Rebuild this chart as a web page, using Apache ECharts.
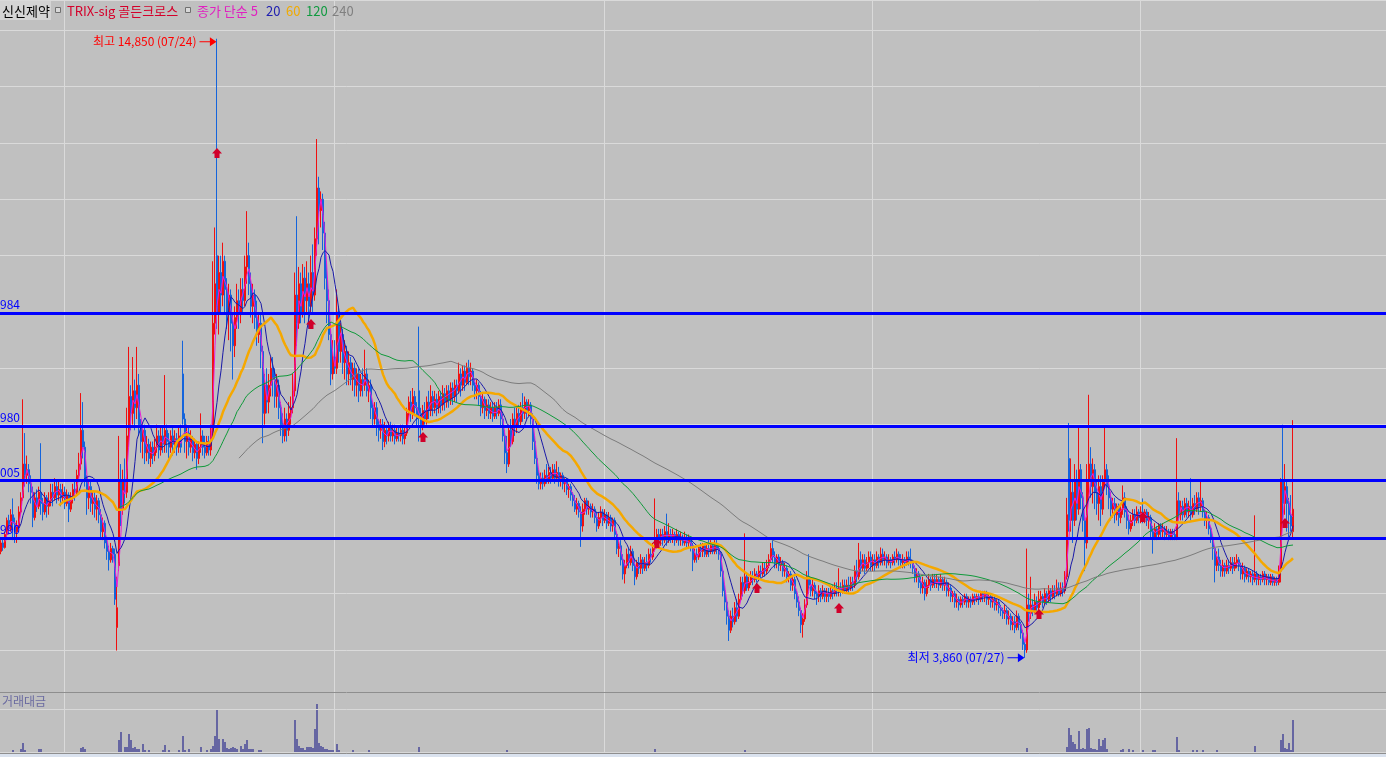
<!DOCTYPE html>
<html><head><meta charset="utf-8">
<script src="https://cdn.jsdelivr.net/npm/echarts@6/dist/echarts.min.js"></script>
<style>html,body{margin:0;padding:0;background:#c0c0c0;overflow:hidden}#c{width:1386px;height:757px}</style>
</head><body><div id="c"></div>
<script>
// ---- data (each candle = 2 trading days): [open, close, low, high]
const ohlc = [
[5750,5900,5700,5950],[5900,5820,5760,6000],[5820,6050,5800,6100],[6050,6300,5950,6350],[6300,6150,6050,6400],[6150,6400,6100,6500],[6400,6250,5950,6690],[6250,6100,5900,6350],[6100,6200,5900,6300],[6200,6450,6150,6550],
[6450,6700,6400,6800],[6700,7300,6650,8450],[7300,7100,6900,7850],[7100,7200,6950,7450],[7200,6950,6800,7300],[6950,6800,6600,7100],[6800,6350,6180,6900],[6350,6700,6300,6800],[6700,6550,6450,6850],[6550,6800,6500,6900],
[6800,6600,6400,7670],[6600,6450,6300,6700],[6450,6700,6400,6800],[6700,6550,6350,6750],[6550,6650,6400,6800],[6650,6800,6550,6950],[6800,6700,6550,6950],[6700,6900,6650,7050],[6900,6750,6600,7000],[6750,6850,6650,7000],
[6850,6700,6550,6950],[6700,6800,6600,6950],[6800,6600,6500,6900],[6600,6750,6550,6850],[6750,6500,6270,6800],[6500,6700,6450,6800],[6700,6850,6600,6950],[6850,6800,6650,7000],[6800,7100,6750,7200],[7100,7300,7000,7500],
[7300,7900,7200,8560],[7900,7600,7400,8400],[7600,7000,6900,7700],[7000,6700,6400,7100],[6700,6900,6500,7000],[6900,6600,6450,7000],[6600,6700,6400,6800],[6700,6500,6350,6800],[6500,6650,6300,6750],[6650,6400,6250,6700],
[6400,6100,6000,6500],[6100,6250,5950,6350],[6250,5900,5800,6300],[5900,5750,5600,6000],[5750,5600,5410,5850],[5600,5800,5550,5900],[5800,5700,5550,5850],[5700,4900,4800,5800],[4400,4750,3990,5300],[5500,7000,5400,7800],
[7000,6500,6200,7300],[6500,7000,6400,7200],[7000,6800,6600,7400],[6800,7800,6700,8300],[7800,8500,7600,9380],[8500,8200,7900,8700],[8200,8600,8000,9200],[8600,8300,7900,8800],[8300,8700,8100,9380],[8700,8000,7800,8900],
[8000,7700,7500,8100],[7700,7900,7400,8000],[7900,7500,7300,8000],[7500,7650,7350,7800],[7650,7400,7300,7750],[7400,7600,7250,7700],[7600,7450,7300,7700],[7450,7600,7350,7750],[7600,7800,7500,8000],[7800,7550,7400,7900],
[7550,7800,7450,7950],[7800,7650,7500,7950],[7650,7900,7500,8880],[7900,7700,7500,8000],[7700,7600,7400,7850],[7600,7800,7500,7900],[7800,7650,7450,7950],[7650,7750,7500,7900],[7750,7600,7450,7850],[7600,7800,7500,7950],
[7800,7600,7500,8000],[8900,8100,8000,9490],[8100,7700,7500,8200],[7700,7850,7400,8000],[7850,7600,7450,7950],[7600,7750,7500,7900],[7750,7500,7350,7800],[7500,7650,7400,7750],[7650,7400,7200,7700],[7400,7600,7300,7700],
[7600,7800,7500,8200],[7800,7600,7450,7900],[7600,7500,7400,7800],[7500,7700,7450,7800],[7700,7550,7450,7800],[7550,7900,7450,8000],[7900,9800,7800,10900],[9800,10500,9600,11500],[11000,10000,9700,14850],[10000,10700,9600,11000],
[10700,10300,10000,11000],[10300,10900,10100,11230],[10900,10400,10000,11000],[10400,10000,9700,10600],[10000,10300,9500,10500],[10300,9800,9300,10400],[9800,9400,8800,10000],[9400,9900,9200,10100],[9900,10200,9700,10500],[10200,10000,9700,10400],
[10000,10400,9800,10600],[10400,10200,10000,10600],[10200,10800,10100,11000],[10800,11000,10500,11790],[11000,10500,10300,11230],[10500,10100,9900,10700],[10100,10300,9800,10500],[10300,9900,9700,10400],[9900,9600,9400,10200],[9600,9800,9450,10000],
[9800,9300,9000,10000],[9300,8200,7670,9400],[8200,8700,8000,8900],[8700,8400,8200,9000],[8400,8700,8200,8900],[8700,9000,8500,9200],[9000,8800,8500,9200],[8800,8500,8300,9000],[8500,8700,8300,8900],[8700,8300,8100,8800],
[8300,8000,7800,8400],[8000,7800,7670,8200],[7800,8100,7700,8300],[8100,7900,7700,8200],[7900,8200,7800,8400],[8200,8300,8000,8500],[8300,8600,8200,8900],[8600,10300,8500,10700],[10300,9800,9400,11700],[9800,10500,9700,10800],
[10500,10000,9800,10700],[10000,10600,9900,10850],[10600,10200,9800,10800],[10200,10500,10000,10900],[10500,10100,9700,10700],[10100,10700,10000,11000],[10700,10300,10000,11200],[10300,11300,10200,11500],[11300,12200,11000,13070],[12200,11800,11200,12400],
[11800,12000,11500,12140],[12000,11400,11100,12100],[11400,10600,10400,11600],[10600,10200,9800,10900],[10200,9600,9500,10400],[9600,8900,8700,9800],[8900,9200,8800,9500],[9200,9000,8900,9500],[9000,10000,8900,10400],[10000,9300,9100,10100],
[9300,9600,9100,9800],[9600,9100,8900,9700],[9100,9300,8800,9500],[9300,8900,8700,9400],[8900,9100,8700,9300],[9100,8800,8700,9200],[8800,9000,8600,9100],[9000,8700,8500,9100],[8700,8900,8500,9000],[8900,8600,8400,9000],
[8600,8800,8500,8900],[8800,8700,8500,9000],[8700,8900,8600,9330],[8900,8600,8500,9000],[8600,8700,8400,8800],[8700,8300,8100,8800],[8300,8100,7950,8400],[8100,8300,8000,8400],[8300,8000,7800,8400],[8000,7900,7700,8100],
[7900,8000,7750,8100],[8000,7700,7550,8100],[7700,7900,7600,8050],[7900,7800,7650,8000],[7800,7950,7700,8050],[7950,7800,7700,8050],[7800,7900,7700,8000],[7900,7750,7650,8000],[7750,7850,7700,7950],[7850,7800,7700,7950],
[7800,7900,7700,8000],[7900,7750,7650,8000],[7750,7850,7650,7950],[7850,8200,7800,8300],[8200,8400,8100,8500],[8400,8200,8050,8600],[8200,8500,8100,8650],[8500,8300,8150,8600],[8300,8100,7950,8400],[8600,8200,7700,9740],
[8200,8000,7800,8300],[8000,8250,7900,8350],[8250,8100,8000,8400],[8100,8400,8000,8500],[8400,8250,8100,8600],[8250,8500,8150,8700],[8500,8300,8150,8600],[8300,8450,8200,8600],[8450,8300,8150,8550],[8300,8500,8200,8600],
[8500,8350,8200,8600],[8350,8550,8250,8700],[8550,8400,8250,8650],[8400,8600,8300,8700],[8600,8450,8300,8700],[8450,8650,8350,8750],[8650,8500,8350,8750],[8500,8700,8400,8800],[8700,8600,8400,8800],[8600,8900,8550,9100],
[8900,8700,8500,9000],[8700,8950,8600,9050],[8950,8750,8600,9050],[8750,9000,8700,9100],[9000,8850,8700,9150],[8850,8950,8700,9100],[8950,8700,8600,9000],[8700,8600,8450,8800],[8600,8700,8450,8800],[8700,8500,8350,8750],
[8500,8300,8150,8600],[8300,8450,8200,8550],[8450,8250,8100,8500],[8250,8350,8150,8450],[8350,8200,8100,8450],[8200,8300,8100,8400],[8300,8150,8050,8400],[8150,8300,8100,8400],[8300,8200,8100,8400],[8200,8350,8150,8450],
[8350,8100,7950,8450],[8100,7800,7700,8200],[7800,7500,7300,7900],[7500,7300,7140,7800],[7300,7900,7250,8000],[7900,7700,7600,8100],[7700,8100,7650,8200],[8100,7950,7800,8300],[7950,8200,7850,8300],[8200,8050,7950,8350],
[8050,8300,7950,8400],[8300,8200,8050,8560],[8200,8400,8100,8500],[8400,8250,8100,8450],[8250,8350,8150,8450],[8350,8100,8000,8400],[8100,7700,7550,8200],[7700,7400,7300,7800],[7400,7100,6950,7500],[7100,6950,6850,7200],
[6950,7050,6850,7150],[7050,6950,6850,7150],[6950,7100,6900,7200],[7100,7000,6950,7300],[7000,7150,6950,7250],[7150,7050,6950,7250],[7050,7200,7000,7300],[7200,7050,6950,7300],[7050,7150,7000,7350],[7150,7000,6900,7250],
[7000,7100,6900,7150],[7100,6950,6850,7150],[6950,7000,6800,7050],[7000,6850,6750,7050],[6850,6900,6700,6950],[6900,6750,6650,6950],[6750,6650,6550,6800],[6650,6500,6450,6750],[6500,6600,6400,6700],[6600,6450,6350,6650],
[6450,6200,5830,6550],[6200,6500,6100,6600],[6500,6650,6400,6700],[6650,6500,6400,6700],[6500,6550,6400,6650],[6550,6450,6350,6600],[6450,6500,6350,6600],[6500,6350,6250,6550],[6350,6200,6100,6450],[6200,6350,6150,6450],
[6350,6450,6250,6550],[6450,6300,6200,6500],[6300,6400,6250,6500],[6400,6250,6150,6450],[6250,6350,6200,6450],[6350,6200,6100,6400],[6200,6300,6100,6350],[6300,6050,5950,6350],[6050,5800,5700,6100],[5800,5850,5650,5950],
[5850,5600,5500,5950],[5600,5350,5250,5700],[5350,5500,5180,5600],[5500,5700,5450,5800],[5700,5550,5450,5800],[5550,5750,5500,5850],[5750,5500,5400,5800],[5500,5300,5150,5600],[5300,5550,5250,5600],[5550,5450,5350,5650],
[5450,5600,5350,5700],[5600,5450,5350,5650],[5450,5550,5400,5650],[5550,5500,5400,5700],[5500,5700,5450,5800],[5700,5650,5550,5800],[5650,5800,5600,5900],[5800,5900,5750,6690],[5900,6050,5800,6150],[6050,5950,5850,6150],
[5950,6050,5850,6150],[6050,5950,5850,6150],[5950,6100,5900,6200],[6100,5950,5850,6420],[5950,6050,5900,6250],[6050,6000,5900,6150],[6000,6050,5900,6150],[6050,5950,5850,6100],[5950,6050,5900,6150],[6050,5950,5850,6100],
[5950,6000,5850,6100],[6000,5900,5850,6050],[5900,6000,5850,6100],[6000,5900,5800,6050],[5900,5950,5800,6050],[5950,5850,5750,6000],[5850,5600,5400,5900],[5600,5700,5550,5800],[5700,5650,5550,5800],[5650,5800,5600,5850],
[5800,5750,5650,5900],[5750,5850,5650,5900],[5850,5700,5650,5900],[5700,5800,5650,5900],[5800,5750,5650,5950],[5750,5850,5700,5950],[5850,5750,5700,5900],[5750,5850,5700,5950],[5850,5800,5700,5950],[5800,5700,5600,5850],
[5700,5400,5300,5750],[5400,5050,4950,5450],[5050,4850,4700,5150],[4850,4600,4450,4900],[4600,4350,4160,4700],[4350,4600,4300,4700],[4600,4500,4400,4750],[4500,4750,4450,4850],[4750,4600,4500,4900],[4600,4900,4550,5000],
[4900,5200,4850,5300],[5200,5050,4950,5300],[5050,5300,5000,6070],[5300,5100,5050,5350],[5100,5200,5050,5300],[5200,5300,5150,5400],[5300,5250,5150,5400],[5250,5350,5200,5450],[5350,5300,5200,5400],[5300,5400,5250,5500],
[5400,5350,5250,5500],[5350,5450,5300,5550],[5450,5400,5300,5550],[5400,5500,5350,5600],[5500,5600,5450,5700],[5600,5800,5550,5900],[5800,5650,5550,5950],[5650,5550,5450,5750],[5550,5650,5450,5700],[5650,5500,5400,5700],
[5500,5550,5400,5650],[5550,5400,5300,5600],[5400,5450,5300,5550],[5450,5300,5200,5500],[5300,5350,5200,5400],[5350,5150,5050,5400],[5150,5250,5050,5300],[5250,5000,4900,5300],[5000,4850,4750,5050],[4850,4700,4600,4950],
[4700,4450,4300,4750],[4450,4550,4220,4650],[4550,4800,4500,4900],[4800,5300,4750,5400],[5300,5150,5000,5700],[5150,5050,4950,5250],[5050,5150,4950,5250],[5150,5000,4900,5200],[5000,4950,4800,5050],[4950,5050,4850,5150],
[5050,4950,4850,5100],[4950,5050,4900,5150],[5050,4950,4850,5100],[4950,5000,4850,5100],[5000,4950,4850,5100],[4950,5050,4900,5150],[5050,5000,4900,5150],[5000,5100,4950,5200],[5100,5050,4950,5200],[5050,5100,4950,5450],
[5100,5050,4950,5200],[5050,5150,5000,5250],[5150,5050,5000,5250],[5050,5150,5000,5250],[5150,5100,5000,5300],[5100,5200,5050,5300],[5200,5150,5050,5300],[5150,5400,5100,5500],[5400,5300,5200,5600],[5300,5600,5250,5900],
[5600,5450,5350,5750],[5450,5600,5400,5700],[5600,5450,5350,5700],[5450,5550,5400,5650],[5550,5650,5450,5750],[5650,5500,5400,5750],[5500,5600,5400,5700],[5600,5500,5400,5700],[5500,5650,5450,5750],[5650,5550,5450,5700],
[5550,5700,5500,5820],[5700,5600,5500,5800],[5600,5650,5500,5750],[5650,5550,5450,5700],[5550,5600,5500,5700],[5600,5550,5450,5650],[5550,5650,5500,5700],[5650,5600,5500,5750],[5600,5700,5550,5800],[5700,5600,5500,5750],
[5600,5550,5450,5700],[5550,5600,5450,5700],[5600,5550,5450,5650],[5550,5650,5500,5750],[5650,5600,5500,5750],[5600,5550,5450,5800],[5550,5450,5350,5600],[5450,5300,5200,5500],[5300,5350,5200,5450],[5350,5200,5100,5400],
[5200,5100,5000,5300],[5100,5200,5000,5300],[5200,5000,4880,5250],[5000,5150,4950,5250],[5150,5250,5100,5350],[5250,5150,5050,5300],[5150,5250,5100,5350],[5250,5200,5100,5350],[5200,5250,5100,5350],[5250,5150,5050,5300],
[5150,5250,5100,5350],[5250,5150,5050,5300],[5150,5200,5050,5300],[5200,5050,4950,5250],[5050,5100,4950,5200],[5100,4950,4850,5150],[4950,5000,4850,5050],[5000,4850,4750,5050],[4850,4900,4750,5000],[4900,4800,4700,4950],
[4800,4900,4750,4950],[4900,4850,4750,4950],[4850,4950,4800,5000],[4950,4850,4750,5000],[4850,4900,4750,4950],[4900,4850,4750,4950],[4850,4950,4800,5000],[4950,4900,4800,5000],[4900,4950,4850,5000],[4950,4900,4800,5000],
[4900,5000,4850,5050],[5000,4950,4850,5050],[4950,5000,4850,5050],[5000,4900,4800,5050],[4900,4950,4800,5000],[4950,4850,4750,5000],[4850,4900,4750,4950],[4900,4800,4700,4950],[4800,4850,4700,4900],[4850,4750,4650,4900],
[4750,4700,4600,4800],[4700,4650,4550,4750],[4650,4700,4550,4800],[4700,4550,4450,4750],[4550,4600,4450,4700],[4600,4450,4350,4650],[4450,4500,4350,4600],[4500,4400,4300,4600],[4400,4600,4350,4700],[4600,4450,4350,4650],
[4450,4300,4200,4500],[4300,4100,4000,4350],[4100,4000,3860,4150],[4000,4800,3950,5800],[4800,4650,4500,5000],[4650,4800,4550,5300],[4800,4700,4600,4900],[4700,4850,4650,5000],[4850,4750,4650,4950],[4750,4900,4700,5050],
[4900,4950,4800,5050],[4950,4850,4750,5000],[4850,5000,4800,5100],[5000,4900,4800,5050],[4900,5050,4850,5150],[5050,4950,4850,5100],[4950,5050,4900,5150],[5050,5000,4900,5150],[5000,5100,4950,5250],[5100,5000,4950,5200],
[5000,5100,4950,5200],[5100,5050,4950,5200],[5050,5300,5000,5400],[5300,6400,5250,6700],[7400,6300,6100,8030],[6300,6800,6100,7400],[6800,6300,5900,7000],[6300,7000,6200,7300],[7000,6500,6300,7200],[6500,7200,6400,7940],
[7200,6700,6500,7300],[6700,6300,6100,6800],[6300,5900,5400,6400],[5900,7000,5800,7300],[7000,7300,6700,8530],[7300,6900,6700,7600],[6900,7200,6600,7400],[7200,6800,6500,7300],[6800,6600,6400,7000],[6600,6900,6300,7100],
[6900,6500,6200,7100],[6500,7000,6400,7100],[7000,7200,6900,7940],[7200,6900,6750,7300],[6900,6700,6500,7100],[6700,6500,6300,6800],[6500,6600,6350,6700],[6600,6400,6250,6700],[6400,6550,6300,6600],[6550,6350,6200,6600],
[6350,6500,6250,6600],[6500,6700,6400,6920],[6700,6450,6350,6800],[6450,6300,6150,6550],[6300,6150,6050,6400],[6150,6300,6100,6400],[6300,6400,6200,6500],[6400,6300,6200,6500],[6300,6450,6250,6550],[6450,6350,6250,6500],
[6350,6450,6250,6550],[6450,6350,6250,6690],[6350,6450,6250,6500],[6450,6300,6200,6500],[6300,6350,6150,6450],[6350,6100,6000,6400],[6100,6000,5710,6200],[6000,6150,5950,6250],[6150,6050,5950,6200],[6050,6200,6000,6250],
[6200,6100,6000,6250],[6100,6150,6000,6250],[6150,6050,5950,6200],[6050,6100,6000,6200],[6100,6000,5950,6150],[6000,6100,5950,6150],[6100,6050,5950,6150],[6050,6000,5950,6150],[6000,6650,5950,7760],[6650,6400,6300,6800],
[6400,6550,6300,6650],[6550,6400,6300,6650],[6400,6600,6350,6700],[6600,6450,6350,6700],[6450,6550,6350,6650],[6550,6400,6300,7050],[6400,6600,6350,6700],[6600,6500,6400,6750],[6500,6700,6450,6800],[6700,6550,6400,6800],
[6550,6650,6450,7030],[6650,6450,6350,6700],[6450,6300,6200,6500],[6300,6350,6150,6450],[6350,6150,6050,6400],[6150,6000,5900,6200],[6000,5800,5600,6050],[5800,5500,5200,5850],[5500,5650,5400,5750],[5650,5500,5400,5800],
[5500,5400,5300,5600],[5400,5500,5300,5600],[5500,5400,5300,5550],[5400,5500,5350,5600],[5500,5450,5350,5600],[5450,5550,5400,5650],[5550,5450,5350,5650],[5450,5550,5400,5650],[5550,5600,5450,5700],[5600,5500,5400,5650],
[5500,5350,5250,5550],[5350,5450,5250,5550],[5450,5300,5200,5500],[5300,5400,5250,5450],[5400,5300,5200,5450],[5300,5350,5200,5400],[5350,5250,5150,5400],[5250,5350,5200,6390],[5350,5250,5150,5400],[5250,5300,5150,5350],
[5300,5250,5150,5350],[5250,5350,5200,5400],[5350,5250,5150,5400],[5250,5300,5150,5350],[5300,5200,5150,5350],[5200,5300,5150,5350],[5300,5200,5140,5350],[5200,5250,5140,5300],[5250,5200,5140,5300],[5200,5400,5150,5500],
[5400,7000,5200,7050],[7000,6600,6300,8000],[6600,6900,6400,7300],[6900,6600,6100,7000],[6600,6400,6000,6700],[6400,6200,6100,6750],[6100,6500,6000,8080]
];
// trading value (거래대금) bars: [candle index, relative value]
const volume = [[6,4],[10,6],[11,18],[12,4],[19,6],[20,6],[40,8],[41,10],[42,6],[59,24],[60,40],[62,10],[63,10],[64,36],[65,24],[66,8],[67,10],[68,6],[69,6],[71,16],[72,4],[74,4],[81,4],[82,14],[84,4],[89,4],[91,32],[92,4],[94,6],[100,10],[103,4],[105,6],[106,12],[107,32],[108,84],[109,26],[111,26],[112,20],[113,8],[114,6],[115,8],[116,10],[117,8],[118,6],[120,12],[121,6],[122,16],[123,24],[124,6],[125,6],[126,6],[129,4],[130,4],[147,64],[148,26],[149,12],[150,8],[151,8],[152,4],[153,10],[154,10],[155,10],[156,8],[157,46],[158,96],[159,18],[160,12],[161,10],[162,6],[163,6],[164,4],[165,4],[166,4],[168,16],[169,4],[176,4],[184,4],[209,10],[253,4],[327,6],[372,4],[513,8],[533,10],[534,48],[535,34],[536,20],[537,16],[538,6],[539,42],[540,6],[541,8],[542,6],[543,46],[544,48],[545,8],[546,6],[547,6],[548,4],[549,26],[550,12],[551,24],[552,28],[553,6],[560,4],[561,6],[564,6],[566,4],[571,4],[576,4],[577,4],[588,30],[589,4],[596,4],[598,4],[601,4],[608,4],[627,12],[640,24],[641,36],[642,8],[643,6],[644,18],[645,4],[646,64]];
const levels = [9984, 7980, 7005, 5990];            // blue horizontal lines
const sigIdx = [108, 155, 211, 328, 378, 419, 519, 571, 642];   // TRIX-sig golden cross
const sigPrice = [12822, 9787, 7781, 5900, 5101, 4746, 4640, 6361, 6255];
const maDays = [5, 20, 60, 120, 240];
const maColors = ['#e81ed8', '#1a1aa8', '#f5a800', '#0f9a3a', '#7c7c7c'];
const maWidths = [1, 1, 2.5, 1, 1];
const hiMark = {idx: 108, price: 14850, text: '최고 14,850 (07/24)'};
const loMark = {idx: 512, price: 3860, text: '최저 3,860 (07/27)'};
const yearLines = [32, 167, 302, 436, 570];
const SLOTS = 693;
const PMIN = 3254, PMAX = 15538;
const DAYS_PER_CANDLE = 2;

const FONT = "'Noto Sans CJK KR','Noto Sans',sans-serif";
const UP = '#f01010', DOWN = '#1464dc';
const cats = Array.from({length: SLOTS}, (_, i) => String(i));

function ma(days) {
  const p = Math.round(days / DAYS_PER_CANDLE);
  return ohlc.map((d, i) => {
    if (i < p - 1) return null;
    let s = 0;
    for (let k = i - p + 1; k <= i; k++) s += ohlc[k][1];
    return Math.round(s / p);
  });
}

const ARROW_R = 'path://M0,4 L11,4 L11,0 L18,4.5 L11,9 L11,5 L0,5 Z';
const ARROW_U = 'path://M5,0 L10,5 L7.5,5 L7.5,9 L2.5,9 L2.5,5 L0,5 Z';

const chart = echarts.init(document.getElementById('c'), null, {renderer: 'canvas'});
const xAx = g => ({
  type: 'category', gridIndex: g, data: cats, boundaryGap: true,
  axisLine: {show: false}, axisTick: {show: false}, axisLabel: {show: false},
  splitLine: {show: true, interval: (i) => yearLines.includes(i), lineStyle: {color: '#dadada', width: 1}}
});
const legendItems = [
  {t: 'TRIX-sig 골든크로스', x: 67, c: '#d4002a'},
  {t: '종가 단순 5', x: 197, c: '#e020c0'},
  {t: '20', x: 266, c: '#2020b0'},
  {t: '60', x: 286, c: '#f0aa00'},
  {t: '120', x: 306, c: '#109a40'},
  {t: '240', x: 332, c: '#808080'}
];
const graphic = [
  {type: 'rect', z: 50, shape: {x: 0, y: 1, width: 51, height: 19}, style: {fill: '#d4d4d4'}},
  {type: 'text', z: 51, x: 2, y: 11, style: {text: '신신제약', fill: '#000', font: '13px ' + FONT, verticalAlign: 'middle'}},
  {type: 'rect', z: 51, shape: {x: 55.5, y: 7.5, width: 5, height: 5}, style: {fill: '#d8d8d8', stroke: '#707070', lineWidth: 1}},
  {type: 'rect', z: 51, shape: {x: 185.5, y: 7.5, width: 5, height: 5}, style: {fill: '#d8d8d8', stroke: '#707070', lineWidth: 1}},
  ...legendItems.map(l => ({type: 'text', z: 51, x: l.x, y: 11, style: {text: l.t, fill: l.c, font: '13px ' + FONT, verticalAlign: 'middle'}})),
  {type: 'line', z: 50, shape: {x1: 0, y1: 692.5, x2: 1386, y2: 692.5}, style: {stroke: '#8e8e8e', lineWidth: 1}},
  {type: 'line', z: 50, shape: {x1: 0, y1: 709.5, x2: 1386, y2: 709.5}, style: {stroke: '#d8d8d8', lineWidth: 1}},
  {type: 'line', z: 50, shape: {x1: 0, y1: 752.5, x2: 1386, y2: 752.5}, style: {stroke: '#d8d8d8', lineWidth: 1}},
  {type: 'line', z: 50, shape: {x1: 0, y1: 753.5, x2: 1386, y2: 753.5}, style: {stroke: '#8e8e8e', lineWidth: 1}},
  {type: 'rect', z: 50, shape: {x: 0, y: 754, width: 1386, height: 3}, style: {fill: '#dae2ee'}},
  {type: 'text', z: 51, x: 2, y: 701, style: {text: '거래대금', fill: '#6a6aa0', font: '12px ' + FONT, verticalAlign: 'middle'}}
];

const series = [
  {
    type: 'candlestick', xAxisIndex: 0, yAxisIndex: 0, data: ohlc, barWidth: 2, large: false, z: 3, silent: true,
    itemStyle: {color: UP, color0: DOWN, borderColor: UP, borderColor0: DOWN, borderWidth: 1},
    markPoint: {
      silent: true, animation: false, symbol: ARROW_R, symbolSize: [17, 9],
      label: {show: true, position: 'left', distance: 3, fontSize: 12, fontFamily: FONT, formatter: p => p.name},
      data: [
        {name: hiMark.text, coord: [hiMark.idx, hiMark.price], symbolOffset: [-9, 3], itemStyle: {color: '#ff0000'}, label: {color: '#ff0000'}},
        {name: loMark.text, coord: [loMark.idx, loMark.price], symbolOffset: [-9, 0], itemStyle: {color: '#0000ff'}, label: {color: '#0000ff'}}
      ]
    }
  },
  ...maDays.map((d, k) => ({
    type: 'line', xAxisIndex: 0, yAxisIndex: 0, data: ma(d), showSymbol: false, symbol: 'none', silent: true, z: 4,
    lineStyle: {color: maColors[k], width: maWidths[k]}
  })),
  {
    type: 'scatter', xAxisIndex: 0, yAxisIndex: 0, data: sigIdx.map((i, k) => [i, sigPrice[k]]), silent: true, z: 6,
    symbol: ARROW_U, symbolSize: [10, 10], itemStyle: {color: '#d0002a', opacity: 1}
  },
  {
    type: 'line', xAxisIndex: 0, yAxisIndex: 0, data: [], z: 7, silent: true,
    markLine: {
      silent: true, animation: false, symbol: ['none', 'none'], z: 7,
      lineStyle: {color: '#0000ff', width: 3, type: 'solid'},
      label: {show: true, position: 'insideStartTop', distance: [0, 2], padding: 0, color: '#0000ff', fontSize: 12, fontFamily: FONT,
              formatter: p => String(p.value).slice(-3)},
      data: levels.map(v => ({yAxis: v}))
    }
  },
  {
    type: 'bar', xAxisIndex: 1, yAxisIndex: 1, data: volume, barWidth: 2, silent: true, z: 3,
    itemStyle: {color: '#6666a2'}
  }
];

chart.setOption({
  animation: false,
  backgroundColor: '#c0c0c0',
  textStyle: {fontFamily: FONT},
  grid: [{left: 0, right: 0, top: 0, height: 692}, {left: 0, right: 0, top: 692, height: 60}],
  xAxis: [xAx(0), xAx(1)],
  yAxis: [
    {type: 'value', gridIndex: 0, min: PMIN, max: PMAX, splitNumber: 12, axisLine: {show: false}, axisTick: {show: false}, axisLabel: {show: false},
     splitLine: {show: true, lineStyle: {color: '#dadada', width: 1}}},
    {type: 'value', gridIndex: 1, min: 0, max: 120, axisLine: {show: false}, axisTick: {show: false}, axisLabel: {show: false}, splitLine: {show: false}}
  ],
  graphic: graphic,
  series: series
});
</script>
</body></html>
